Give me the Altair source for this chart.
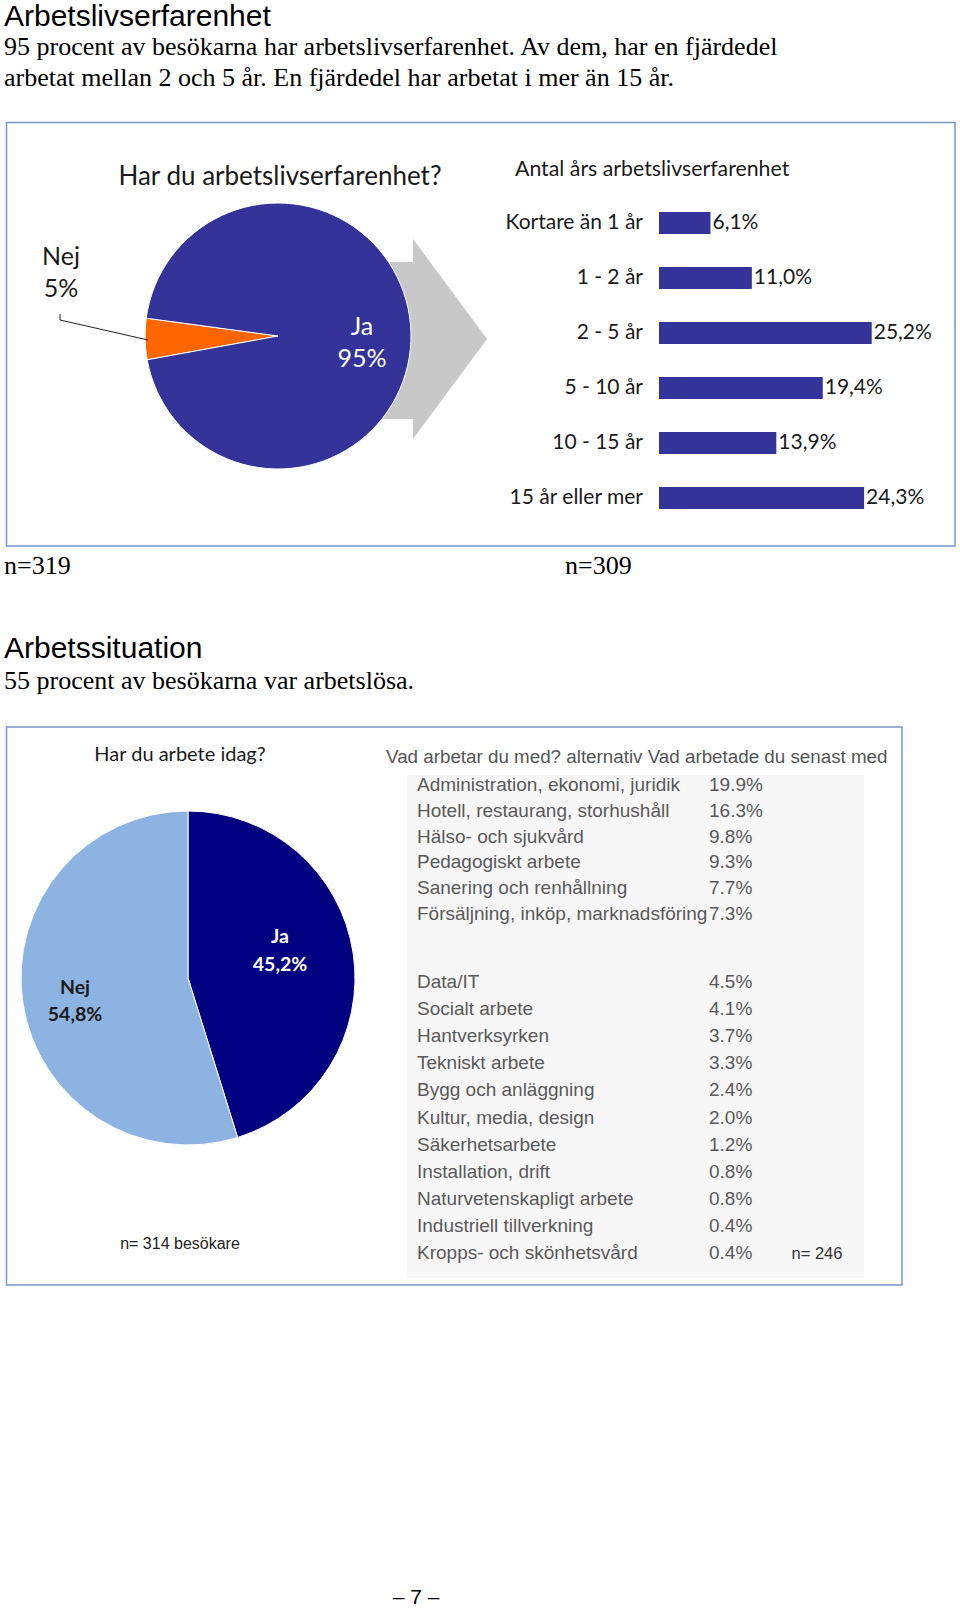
import math
import json
import altair as alt
import pandas as pd

# ---------------- data ----------------
pie1_cats = ["Nej", "Ja"]
pie1_vals = [5, 95]

bar_cats = ["Kortare än 1 år", "1 - 2 år", "2 - 5 år", "5 - 10 år", "10 - 15 år", "15 år eller mer"]
bar_vals = [6.1, 11.0, 25.2, 19.4, 13.9, 24.3]

pie2_cats = ["Ja", "Nej"]
pie2_vals = [45.2, 54.8]

jobs_a = ["Administration, ekonomi, juridik", "Hotell, restaurang, storhushåll",
          "Hälso- och sjukvård", "Pedagogiskt arbete", "Sanering och renhållning",
          "Försäljning, inköp, marknadsföring"]
jobs_a_vals = [19.9, 16.3, 9.8, 9.3, 7.7, 7.3]

jobs_b = ["Data/IT", "Socialt arbete", "Hantverksyrken", "Tekniskt arbete",
          "Bygg och anläggning", "Kultur, media, design", "Säkerhetsarbete",
          "Installation, drift", "Naturvetenskapligt arbete", "Industriell tillverkning",
          "Kropps- och skönhetsvård"]
jobs_b_vals = [4.5, 4.1, 3.7, 3.3, 2.4, 2.0, 1.2, 0.8, 0.8, 0.4, 0.4]

heading1 = "Arbetslivserfarenhet"
body1 = ["95 procent av besökarna har arbetslivserfarenhet. Av dem, har en fjärdedel",
         "arbetat mellan 2 och 5 år. En fjärdedel har arbetat i mer än 15 år."]
n_left, n_right = "n=319", "n=309"
heading2 = "Arbetssituation"
body2 = "55 procent av besökarna var arbetslösa."
pie1_title = "Har du arbetslivserfarenhet?"
bar_title = "Antal års arbetslivserfarenhet"
pie2_title = "Har du arbete idag?"
pie2_note = "n= 314 besökare"
table_title = "Vad arbetar du med? alternativ Vad arbetade du senast med"
table_note = "n= 246"
page_no = "– 7 –"

SANS = "Liberation Sans"
SERIF = "Liberation Serif"
CAL = "Lato"

one = alt.Data(values=[{"k": 1}])


def txt(s, x, y, size, font, color="#000000", align="left", weight="normal"):
    return alt.Chart(one).mark_text(
        align=align, baseline="middle", font=font, fontSize=size,
        color=color, fontWeight=weight
    ).encode(x=alt.value(x), y=alt.value(y), text=alt.value(s))


def rect(x, y, x2, y2, fill, stroke=None, sw=0):
    kw = dict(fill=fill)
    if stroke:
        kw.update(stroke=stroke, strokeWidth=sw)
    return alt.Chart(one).mark_rect(**kw).encode(
        x=alt.value(x), x2=alt.value(x2), y=alt.value(y), y2=alt.value(y2))


def rule(x, y, x2, y2):
    return alt.Chart(one).mark_rule(color="#222222", strokeWidth=1).encode(
        x=alt.value(x), x2=alt.value(x2), y=alt.value(y), y2=alt.value(y2))


layers = []
BORDER = "#7896C6"

# ---------- page text ----------
layers.append(txt(heading1, 4, 17, 30, SANS))
layers.append(txt(body1[0], 4, 47, 26, SERIF))
layers.append(txt(body1[1], 4, 78, 26, SERIF))
layers.append(txt(n_left, 4, 566, 26, SERIF))
layers.append(txt(n_right, 565, 566, 26, SERIF))
layers.append(txt(heading2, 4, 649, 30, SANS))
layers.append(txt(body2, 4, 681, 26, SERIF))
layers.append(txt(page_no, 416, 1598, 21, SANS, align="center"))

# ---------- box 1 ----------
layers.append(rect(6.5, 122.5, 955, 546, "#ffffff", BORDER, 1.5))

# arrow behind pie
layers.append(alt.Chart(one).mark_point(
    shape="M -0.7 -0.77 L 0.03 -0.77 L 0.03 -1 L 0.77 0 L 0.03 1 L 0.03 0.8 L -0.7 0.8 Z",
    filled=True, fill="#C8C8C8", size=40000, opacity=1, strokeWidth=0
).encode(x=alt.value(410), y=alt.value(339)))

# pie 1
a0 = math.radians(259.7)
p1 = pd.DataFrame({"cat": pie1_cats, "val": pie1_vals})
layers.append(alt.Chart(p1).transform_calculate(
    o=f"indexof({json.dumps(pie1_cats)}, datum.cat)"
).mark_arc(radius=133, stroke="white", strokeWidth=1, x=278, y=336).encode(
    theta=alt.Theta("val:Q", stack=True, scale=alt.Scale(range=[a0, a0 + 2 * math.pi])),
    color=alt.Color("cat:N", scale=alt.Scale(domain=pie1_cats, range=["#FF6600", "#333399"]), legend=None),
    order=alt.Order("o:Q"),
))

layers.append(txt(pie1_title, 280, 177, 26, CAL, color="#1a1a1a", align="center"))
layers.append(rule(60, 314, 60, 320))
layers.append(rule(60, 320, 148, 340))


def pie_label(df, cat, x, y, size, color, weight="normal", lh=32):
    return alt.Chart(df).transform_filter(
        alt.datum.cat == cat
    ).transform_calculate(
        lab="datum.cat + '\\n' + replace(format(datum.val, datum.val % 1 ? '.1f' : 'd'), '.', ',') + '%'"
    ).mark_text(
        align="center", baseline="middle", font=CAL, fontSize=size, color=color,
        fontWeight=weight, lineBreak="\n", lineHeight=lh
    ).encode(x=alt.value(x), y=alt.value(y), text="lab:N")


layers.append(pie_label(p1, "Nej", 61, 257, 25, "#1a1a1a"))
layers.append(pie_label(p1, "Ja", 362, 327, 25, "#ffffff"))

# bars
bdf = pd.DataFrame({"cat": bar_cats, "val": bar_vals})
ybar = alt.Y("cat:N", sort=bar_cats, axis=None,
             scale=alt.Scale(range=[195.5, 525.5], paddingInner=0.6, paddingOuter=0.3))
xbar = alt.X("val:Q", axis=None, scale=alt.Scale(domain=[0, 25.2], range=[659, 871.7]))
layers.append(alt.Chart(bdf).mark_bar(color="#333399").encode(x=xbar, y=ybar))
layers.append(alt.Chart(bdf).mark_text(
    align="right", baseline="middle", font=CAL, fontSize=21, color="#1a1a1a"
).encode(x=alt.value(643), y=ybar, text="cat:N"))
layers.append(alt.Chart(bdf).transform_calculate(
    lab="replace(format(datum.val, '.1f'), '.', ',') + '%'"
).mark_text(
    align="left", baseline="middle", font=CAL, fontSize=21, color="#1a1a1a", dx=2
).encode(x=xbar, y=ybar, text="lab:N"))
layers.append(txt(bar_title, 515, 170, 21.3, CAL, color="#1a1a1a"))

# ---------- box 2 ----------
layers.append(rect(6.5, 727, 902, 1285, "#ffffff", BORDER, 1.5))
layers.append(rect(407, 775, 864, 1278, "#F7F7F7"))

# pie 2
p2 = pd.DataFrame({"cat": pie2_cats, "val": pie2_vals})
layers.append(alt.Chart(p2).transform_calculate(
    o=f"indexof({json.dumps(pie2_cats)}, datum.cat)"
).mark_arc(radius=167, stroke="white", strokeWidth=1, x=188, y=978).encode(
    theta=alt.Theta("val:Q", stack=True, scale=alt.Scale(range=[0, 2 * math.pi])),
    color=alt.Color("cat:N", scale=alt.Scale(domain=pie2_cats, range=["#000080", "#8DB3E2"]), legend=None),
    order=alt.Order("o:Q"),
))
layers.append(txt(pie2_title, 180, 755, 20, CAL, color="#1a1a1a", align="center"))
layers.append(pie_label(p2, "Ja", 280, 937, 19.5, "#ffffff", "bold", 28))
layers.append(pie_label(p2, "Nej", 75, 988, 19.5, "#1a1a1a", "bold", 27))
layers.append(txt(pie2_note, 180, 1244, 16, SANS, color="#222222", align="center"))

# table
layers.append(txt(table_title, 386, 757, 18.8, SANS, color="#555555"))


def table(labels, vals, r0, r1):
    df = pd.DataFrame({"lab": labels, "val": vals})
    y = alt.Y("lab:N", sort=labels, axis=None,
              scale=alt.Scale(type="point", range=[r0, r1], padding=0))
    t1 = alt.Chart(df).mark_text(
        align="left", baseline="middle", font=SANS, fontSize=19, color="#595959"
    ).encode(x=alt.value(417), y=y, text="lab:N")
    t2 = alt.Chart(df).transform_calculate(
        v="format(datum.val, '.1f') + '%'"
    ).mark_text(
        align="left", baseline="middle", font=SANS, fontSize=19, color="#595959"
    ).encode(x=alt.value(709), y=y, text="v:N")
    return [t1, t2]


layers += table(jobs_a, jobs_a_vals, 785, 914)
layers += table(jobs_b, jobs_b_vals, 982, 1253)
layers.append(txt(table_note, 817, 1254, 16.5, SANS, color="#333333", align="center"))

chart = alt.layer(*layers).properties(
    width=960, height=1608, padding=0,
    autosize=alt.AutoSizeParams(type="none"),
    background="white",
).resolve_scale(
    x="independent", y="independent", theta="independent", color="independent"
).configure_view(stroke=None)

chart.save("out.html", embed_options={"renderer": "svg", "actions": False})
